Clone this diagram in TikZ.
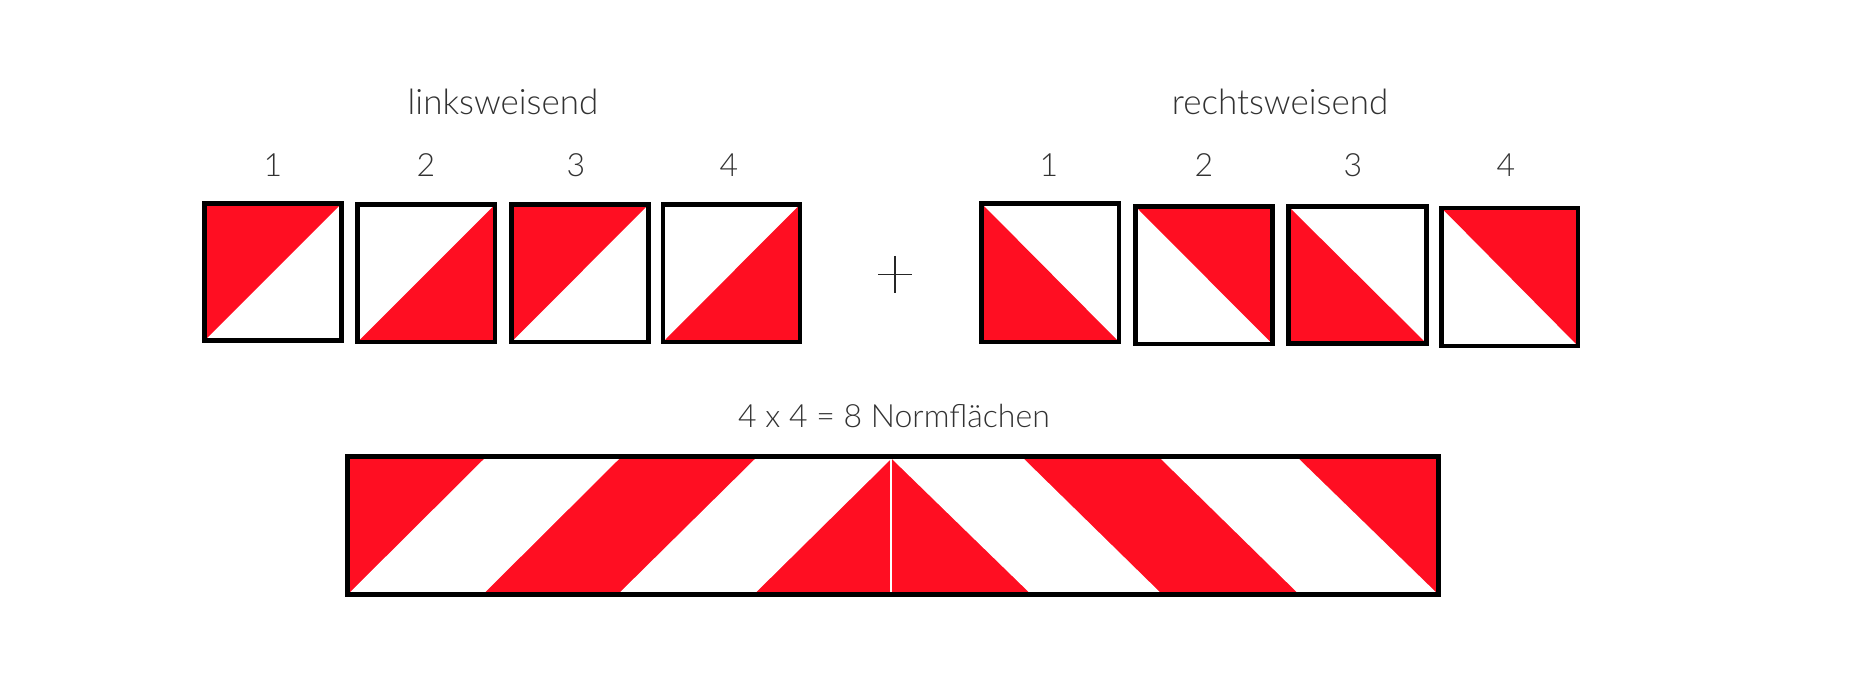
\documentclass[tikz,border=0pt]{standalone}
\usepackage{fontspec}
\setmainfont{Lato}[UprightFont={* Light}]
\definecolor{sigred}{RGB}{255,14,34}
\definecolor{txtgray}{RGB}{50,50,50}
\tikzset{
  frame/.style={draw=black, line width=4.2pt},
  barframe/.style={draw=black, line width=4.5pt},
  redfill/.style={fill=sigred},
  num/.style={anchor=base, text=txtgray, font=\fontsize{32}{38}\selectfont, inner sep=0pt},
  title/.style={anchor=base, text=txtgray, font=\fontsize{35}{42}\selectfont, inner sep=0pt},
  caption/.style={anchor=base, text=txtgray, font=\fontsize{32}{38}\selectfont, inner sep=0pt},
}
\begin{document}
\begin{tikzpicture}[x=1pt,y=-1pt]
\useasboundingbox (0,0) rectangle (1857,682);
\fill[white] (0,0) rectangle (1857,682);
% titles
\node[title] (tl) at (503,114.3) {linksweisend};
\node[title] (tr) at (1280,114.3) {rechtsweisend};
% numbers
\node[num] (nl1) at (273,176.7) {1};
\node[num] (nl2) at (426,176.7) {2};
\node[num] (nl3) at (576,176.7) {3};
\node[num] (nl4) at (729,176.7) {4};
\node[num] (nr1) at (1049,176.7) {1};
\node[num] (nr2) at (1204,176.7) {2};
\node[num] (nr3) at (1353,176.7) {3};
\node[num] (nr4) at (1506,176.7) {4};
% left boxes (diagonal bottom-left to top-right)
\fill[redfill] (204.5,203.5) -- (341.5,203.5) -- (204.5,340.5) -- cycle;
\draw[frame] (204.5,203.5) rectangle (341.5,340.5);
\fill[redfill] (495,204.5) -- (495,342) -- (357.5,342) -- cycle;
\draw[frame] (357.5,204.5) rectangle (495,342);
\fill[redfill] (511.5,204.5) -- (648.5,204.5) -- (511.5,342) -- cycle;
\draw[frame] (511.5,204.5) rectangle (648.5,342);
\fill[redfill] (800,204.5) -- (800,342) -- (663,342) -- cycle;
\draw[frame] (663,204.5) rectangle (800,342);
% plus
\node[inner sep=0pt, minimum width=33pt, minimum height=37pt] (plus) at (895,274.5) {};
\draw[line width=1.8pt, black!85] (plus.west) -- (plus.east);
\draw[line width=1.8pt, black!85] (plus.north) -- (plus.south);
% right boxes (diagonal top-left to bottom-right)
\fill[redfill] (981.5,203.5) -- (1119,342) -- (981.5,342) -- cycle;
\draw[frame] (981.5,203.5) rectangle (1119,342);
\fill[redfill] (1135.5,206.5) -- (1272.5,206.5) -- (1272.5,344) -- cycle;
\draw[frame] (1135.5,206.5) rectangle (1272.5,344);
\fill[redfill] (1288.5,206.5) -- (1426.5,343.5) -- (1288.5,343.5) -- cycle;
\draw[frame] (1288.5,206.5) rectangle (1426.5,343.5);
\fill[redfill] (1441.5,208) -- (1578,208) -- (1578,346) -- cycle;
\draw[frame] (1441.5,208) rectangle (1578,346);
% caption
\node[caption] (cap) at (894,427.3) {4 x 4 = 8 Normflächen};
% bar
\def\T{459}\def\B{592.3}
\fill[redfill] (347.5,456.5) rectangle (1438.5,594.5);
\fill[white] (350,\B) -- (484,\T) -- (619,\T) -- (485,\B) -- cycle;
\fill[white] (620,\B) -- (755,\T) -- (891,\T) -- (756,\B) -- cycle;
\fill[white] (892,\T) -- (1024,\T) -- (1160,\B) -- (1029,\B) -- cycle;
\fill[white] (1161,\T) -- (1299,\T) -- (1436,\B) -- (1297,\B) -- cycle;
\draw[white, line width=1.5pt] (891,\T) -- (891,\B);
\draw[barframe] (347.5,456.5) rectangle (1438.5,594.5);
\end{tikzpicture}
\end{document}
